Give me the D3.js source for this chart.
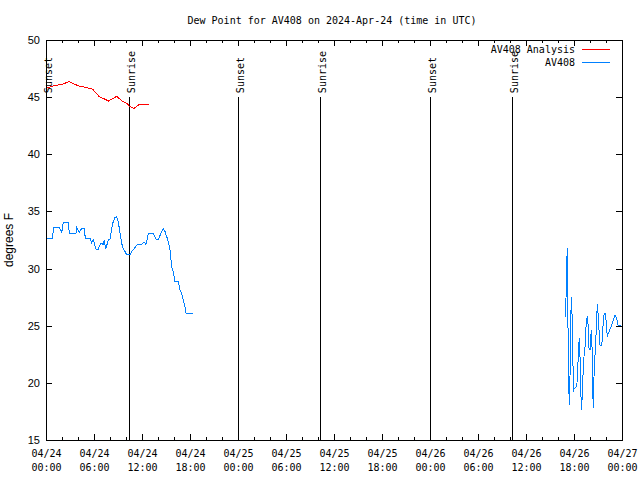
<!DOCTYPE html>
<html>
<head>
<meta charset="utf-8">
<script src="https://cdn.jsdelivr.net/npm/d3@7"></script>
<style>
  body { margin: 0; background: #fff; }
  svg { display: block; }
</style>
</head>
<body>
<svg id="chart" width="640" height="480"></svg>
<script>
// time axis runs from 04/24 00:00 UTC, values given as hours from that start
const startTime = Date.UTC(2024, 3, 24, 0, 0);
const endHours = 72;

const titleText = 'Dew Point for AV408 on 2024-Apr-24 (time in UTC)';
const yLabel = 'degrees F';
const yTicks = [15, 20, 25, 30, 35, 40, 45, 50];

const seriesNames = ['AV408 Analysis', 'AV408'];
const seriesColors = ['#ff0000', '#0080ff'];

// analysis (red)
const analysisHours = [0, 0.9, 1.96, 2.9, 3.6, 4.25, 5, 5.84, 6.66, 7.25, 7.8, 8.34, 8.84, 9.46, 10.09, 10.5, 11, 11.66, 12.9];
const analysisValues = [45.77, 45.98, 46.12, 46.35, 46.12, 45.95, 45.86, 45.69, 45.04, 44.86, 44.66, 44.86, 45.07, 44.69, 44.46, 44.16, 44.02, 44.37, 44.37];

// observations (blue), first stretch
const obsHours1 = [0.16, 0.84, 0.91, 1.66, 1.96, 2.16, 2.79, 2.91, 3.75, 3.84, 4.16, 4.46, 4.79, 4.91, 5.5, 5.71, 5.91, 6.04, 6.25, 6.54,
  6.84, 7.16, 7.29, 7.46, 7.79, 8.0, 8.12, 8.34, 8.62, 8.84, 9.04, 9.25, 9.46, 9.66, 9.88, 10.09, 10.5, 10.71, 11.04, 11.34,
  11.96, 12.25, 12.5, 12.79, 13.41, 13.75, 14.04, 14.34, 14.66, 14.88, 15.09, 15.29, 15.5, 15.71, 15.91, 16.12, 16.54, 16.75,
  16.96, 17.16, 17.38, 17.5, 18.34];
const obsValues1 = [32.65, 32.65, 33.58, 33.58, 33.14, 34.05, 34.05, 33.09, 33.09, 33.58, 33.14, 33.52, 33.52, 32.65, 32.65, 32.27, 32.5, 32.21, 31.71, 31.71,
  32.21, 32.12, 32.5, 31.71, 32.5, 32.56, 33.09, 33.96, 34.45, 34.54, 34.1, 33.09, 32.21, 31.69, 31.48, 31.19, 31.19, 31.48, 31.77, 32.06,
  32.12, 32.35, 32.12, 33.03, 33.03, 32.56, 32.56, 33.03, 33.52, 33.23, 32.79, 32.35, 31.63, 30.16, 29.73, 28.85, 28.85, 28.13,
  27.78, 27.25, 26.66, 26.08, 26.08];

// observations (blue), second stretch
const obsHours2 = [64.91, 65.0, 65.09, 65.16, 65.21, 65.29, 65.41, 65.5, 65.59, 65.66, 65.79, 65.88, 65.91, 66.04, 66.34, 66.46, 66.54, 66.66,
  66.75, 66.84, 66.96, 67.09, 67.25, 67.41, 67.5, 67.66, 67.79, 67.88, 68.0, 68.09, 68.16, 68.25, 68.34, 68.41, 68.5, 68.66,
  68.84, 68.91, 69.04, 69.16, 69.25, 69.46, 69.59, 69.66, 69.88, 70.0, 70.16, 70.29, 70.5, 70.71, 70.91, 71.12, 71.34, 71.46, 71.84];
const obsValues2 = [25.79, 27.4, 30.31, 31.77, 28.27, 21.56, 18.06, 20.54, 25.06, 27.54, 25.35, 21.41, 19.23, 19.52, 19.66, 20.84, 22.73, 23.9,
  22.29, 19.23, 17.63, 20.25, 22.29, 23.31, 24.91, 25.85, 24.91, 23.02, 22.88, 23.9, 24.63, 23.17, 19.52, 17.77, 20.54, 22.88,
  25.5, 26.9, 25.79, 24.19, 23.31, 23.31, 24.04, 25.85, 26.09, 25.5, 24.04, 24.34, 24.69, 25.06, 25.5, 25.94, 25.65, 25.06, 25.0];

const sunLabels = ['Sunset', 'Sunrise', 'Sunset', 'Sunrise', 'Sunset', 'Sunrise'];
const sunHours = [0, 10.375, 24, 34.25, 48, 58.25];
const sunLineTop = 45;

const toDate = h => new Date(startTime + h * 3600e3);

const margin = { top: 40, right: 18, bottom: 40, left: 46 };
const width = 640 - margin.left - margin.right;
const height = 480 - margin.top - margin.bottom;
const mono = 'DejaVu Sans Mono, monospace';
const sans = 'Liberation Sans, Arial, sans-serif';

const svg = d3.select('#chart');
const g = svg.append('g')
  .attr('transform', `translate(${margin.left},${margin.top})`);

const x = d3.scaleUtc()
  .domain([toDate(0), toDate(endHours)])
  .range([0, width]);

const y = d3.scaleLinear()
  .domain([15, 50])
  .range([height, 0]);

// Title
svg.append('text')
  .attr('x', 332)
  .attr('y', 24)
  .attr('text-anchor', 'middle')
  .style('font-family', mono)
  .style('font-size', '10px')
  .text(titleText);

// Y label
svg.append('text')
  .attr('transform', 'translate(13,240) rotate(-90)')
  .attr('text-anchor', 'middle')
  .style('font-family', sans)
  .style('font-size', '12px')
  .text(yLabel);

// minor ticks every 2h, major every 6h, on bottom and top
const minorTimes = d3.utcHour.every(2).range(toDate(0), toDate(endHours + 0.1));
const majorTimes = d3.utcHour.every(6).range(toDate(0), toDate(endHours + 0.1));

const xAxis = g.append('g')
  .attr('transform', `translate(0,${height})`)
  .call(d3.axisBottom(x).tickValues(majorTimes).tickSize(0).tickPadding(0).tickFormat(''));
xAxis.select('.domain').remove();

const labelFmtDate = d3.utcFormat('%m/%d');
const labelFmtTime = d3.utcFormat('%H:%M');
xAxis.selectAll('.tick text').remove();
xAxis.selectAll('.tick').each(function (d) {
  const t = d3.select(this).append('text')
    .attr('fill', '#000')
    .attr('text-anchor', 'middle')
    .style('font-family', mono)
    .style('font-size', '10px');
  t.append('tspan').attr('x', 0).attr('y', 17).text(labelFmtDate(d));
  t.append('tspan').attr('x', 0).attr('y', 31).text(labelFmtTime(d));
});

const tickG = g.append('g')
  .attr('stroke', '#000')
  .attr('stroke-width', 1)
  .attr('shape-rendering', 'crispEdges');

minorTimes.forEach(d => {
  const isMajor = d.getUTCHours() % 6 === 0;
  const len = isMajor ? 6 : 3;
  const px = Math.round(x(d)) + 0.5;
  tickG.append('line').attr('x1', px).attr('x2', px).attr('y1', height).attr('y2', height - len);
  tickG.append('line').attr('x1', px).attr('x2', px).attr('y1', 0).attr('y2', len);
});

yTicks.forEach(v => {
  const py = Math.round(y(v)) + 0.5;
  tickG.append('line').attr('x1', 0).attr('x2', 6).attr('y1', py).attr('y2', py);
  tickG.append('line').attr('x1', width).attr('x2', width - 6).attr('y1', py).attr('y2', py);
});

const yAxis = g.append('g')
  .call(d3.axisLeft(y).tickValues(yTicks).tickSize(0).tickPadding(6).tickFormat(d3.format('d')));
yAxis.select('.domain').remove();
yAxis.selectAll('text')
  .style('font-family', sans)
  .style('font-size', '11px');

// sunrise / sunset markers
sunHours.forEach((h, i) => {
  const px = Math.round(x(toDate(h))) + 0.5;
  g.append('line')
    .attr('x1', px).attr('x2', px)
    .attr('y1', y(sunLineTop)).attr('y2', height)
    .attr('stroke', '#000')
    .attr('shape-rendering', 'crispEdges');
  g.append('text')
    .attr('transform', `translate(${x(toDate(h)) + 6},${y(sunLineTop) - 4}) rotate(-90)`)
    .attr('text-anchor', 'start')
    .style('font-family', mono)
    .style('font-size', '10px')
    .text(sunLabels[i]);
});

// data lines
const line = d3.line()
  .x(d => x(toDate(d[0])))
  .y(d => y(d[1]));

g.append('path')
  .datum(d3.zip(analysisHours, analysisValues))
  .attr('fill', 'none')
  .attr('stroke', seriesColors[0])
  .attr('stroke-width', 1)
  .attr('shape-rendering', 'crispEdges')
  .attr('d', line);

[d3.zip(obsHours1, obsValues1), d3.zip(obsHours2, obsValues2)].forEach(seg => {
  g.append('path')
    .datum(seg)
    .attr('fill', 'none')
    .attr('stroke', seriesColors[1])
    .attr('stroke-width', 1)
    .attr('shape-rendering', 'crispEdges')
    .attr('d', line);
});

// border
g.append('rect')
  .attr('x', 0.5).attr('y', 0.5)
  .attr('width', width).attr('height', height)
  .attr('fill', 'none')
  .attr('stroke', '#000')
  .attr('shape-rendering', 'crispEdges');

// legend
seriesNames.forEach((name, i) => {
  const ly = 49 + i * 13;
  svg.append('text')
    .attr('x', 575)
    .attr('y', ly + 3.5)
    .attr('text-anchor', 'end')
    .style('font-family', mono)
    .style('font-size', '10px')
    .text(name);
  svg.append('line')
    .attr('x1', 582).attr('x2', 610)
    .attr('y1', ly + 0.5).attr('y2', ly + 0.5)
    .attr('stroke', seriesColors[i])
    .attr('shape-rendering', 'crispEdges');
});
</script>
</body>
</html>
